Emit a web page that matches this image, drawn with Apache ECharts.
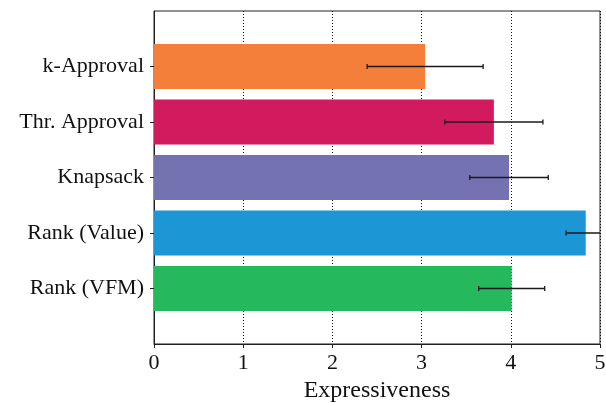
<!DOCTYPE html>
<html>
<head>
<meta charset="utf-8">
<script src="https://cdn.jsdelivr.net/npm/echarts@6/dist/echarts.min.js"></script>
<style>
html,body{margin:0;padding:0;background:#fff;}
#chart{width:606px;height:403px;}
</style>
</head>
<body>
<div id="chart"></div>
<script>
// Data
const categories = ['k-Approval', 'Thr. Approval', 'Knapsack', 'Rank (Value)', 'Rank (VFM)'];
const values = [3.04, 3.81, 3.98, 4.84, 4.01];
const errors = [0.65, 0.55, 0.44, 0.22, 0.37];
const colors = ['#f37f3a', '#d21b5e', '#7472b0', '#1c96d5', '#26b85c'];
const xTicks = [0, 1, 2, 3, 4, 5];

const FONT = '"Liberation Serif", "DejaVu Serif", serif';
// padded category list so bars sit one full step from the frame
const yCats = [''].concat(categories).concat(['']);

const barData = categories.map((c, i) => ({
  value: [values[i], c],
  itemStyle: { color: colors[i] }
}));
const errData = categories.map((c, i) => [values[i] - errors[i], values[i] + errors[i], c]);

const chart = echarts.init(document.getElementById('chart'), null, { renderer: 'canvas' });
chart.setOption({
  animation: false,
  backgroundColor: '#fff',
  grid: { left: 154, right: 6, top: 11, bottom: 59, show: true, borderColor: '#222', borderWidth: 1,
    backgroundColor: 'transparent', containLabel: false, outerBoundsMode: 'none' },
  xAxis: {
    type: 'value', min: 0, max: 5, interval: 1,
    name: 'Expressiveness', nameLocation: 'middle', nameGap: 32,
    nameTextStyle: { fontFamily: FONT, fontSize: 24, color: '#111' },
    axisLine: { show: true, lineStyle: { color: '#222', width: 1 } },
    axisTick: { show: true, length: 4, inside: false, lineStyle: { color: '#222' } },
    axisLabel: { fontFamily: FONT, fontSize: 22, color: '#111', margin: 8,
      formatter: v => xTicks.indexOf(v) >= 0 ? String(v) : '' },
    splitLine: { show: true, lineStyle: { color: '#111', type: [1, 2], width: 1 } }
  },
  yAxis: {
    type: 'category', data: yCats, inverse: true, boundaryGap: false,
    axisLine: { show: true, lineStyle: { color: '#222', width: 1 } },
    axisTick: { show: true, length: 4, lineStyle: { color: '#222' },
      interval: (idx, val) => val !== '' },
    axisLabel: { fontFamily: FONT, fontSize: 22, color: '#111', margin: 10,
      interval: 0 },
    splitLine: { show: false }
  },
  series: [
    {
      type: 'bar', data: barData, barWidth: 45, z: 2,
      encode: { x: 0, y: 1 }
    },
    {
      type: 'custom', z: 5, clip: true,
      encode: { x: [0, 1], y: 2 },
      data: errData,
      renderItem: function (params, api) {
        const y = api.value(2);
        const p1 = api.coord([api.value(0), y]);
        const p2 = api.coord([api.value(1), y]);
        const cap = 2.5;
        const st = { stroke: '#1a1a1a', lineWidth: 1.3 };
        return {
          type: 'group',
          children: [
            { type: 'line', shape: { x1: p1[0], y1: p1[1], x2: p2[0], y2: p2[1] }, style: st },
            { type: 'line', shape: { x1: p1[0], y1: p1[1] - cap, x2: p1[0], y2: p1[1] + cap }, style: st },
            { type: 'line', shape: { x1: p2[0], y1: p2[1] - cap, x2: p2[0], y2: p2[1] + cap }, style: st }
          ]
        };
      }
    }
  ]
});
</script>
</body>
</html>
